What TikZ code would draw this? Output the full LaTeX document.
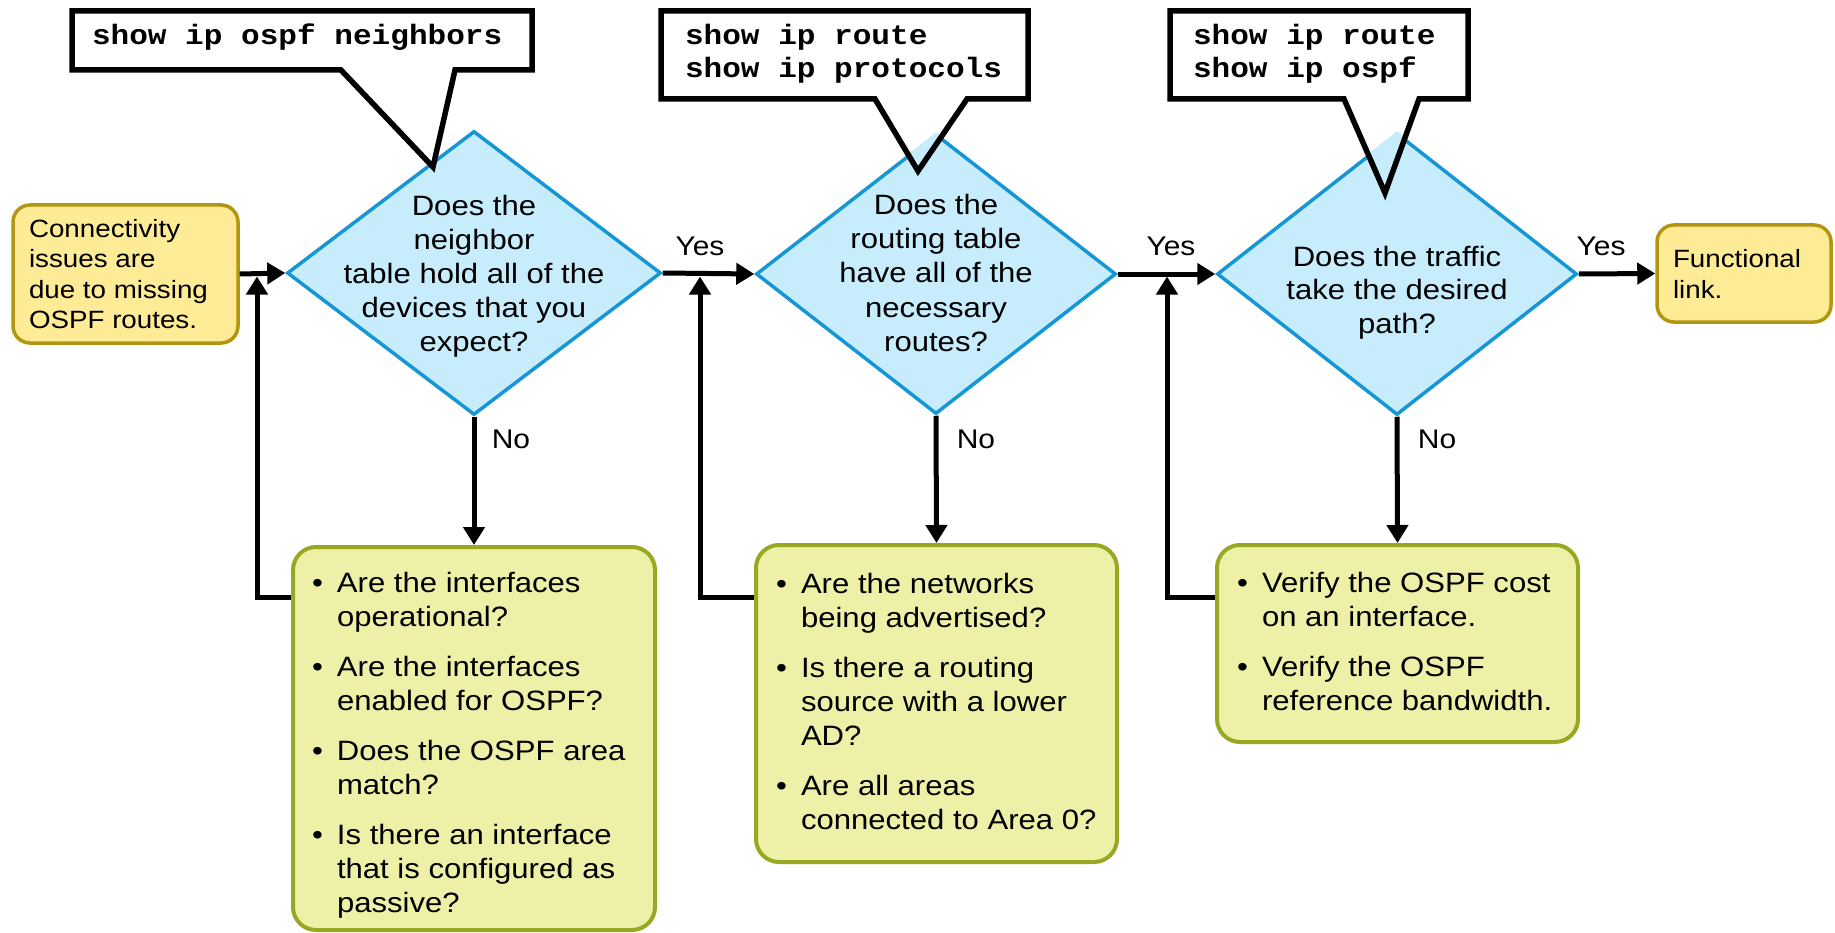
\documentclass[tikz,border=0pt]{standalone}
\usepackage{fontspec}
\setmainfont{Liberation Sans}[FakeStretch=1.11]
\setmonofont{Liberation Mono}[FakeStretch=1.11]
\usetikzlibrary{shapes.geometric,arrows.meta}

\definecolor{dfill}{RGB}{199,237,252}
\definecolor{dborder}{RGB}{22,150,212}
\definecolor{yfill}{RGB}{253,235,150}
\definecolor{yborder}{RGB}{178,150,18}
\definecolor{gfill}{RGB}{237,240,166}
\definecolor{gborder}{RGB}{152,168,34}

% font sizes
\newcommand{\flowQ}{\fontsize{28}{34}\selectfont}
\newcommand{\flowQt}{\fontsize{28}{33.5}\selectfont}
\newcommand{\flowT}{\fontsize{25}{30}\selectfont}
\newcommand{\flowC}{\fontsize{28}{33}\selectfont\ttfamily\bfseries}
\newcommand{\flowL}{\fontsize{27}{32}\selectfont}
% bullet list helpers
\newcommand{\bulitem}{\makebox[25pt][l]{\textbullet}}
\newcommand{\bulcont}{\hspace*{25pt}}

\begin{document}
\begin{tikzpicture}[x=1pt,y=-1pt,
  qbox/.style={diamond, draw=dborder, fill=dfill, line width=3.5pt, inner sep=0pt},
  termbox/.style={rectangle, rounded corners=17pt, draw=yborder, fill=yfill, line width=3.5pt, inner sep=0pt},
  checkbox/.style={rectangle, rounded corners=23pt, draw=gborder, fill=gfill, line width=4pt, inner sep=0pt},
  flow/.style={line width=5pt, -{Triangle[length=18pt,width=21pt]}},
  callout/.style={draw=black, line width=5.5pt, line join=miter},
  txt/.style={inner sep=0pt, outer sep=0pt},
]
\useasboundingbox (0,0) rectangle (1835,933);
\fill[white] (0,0) rectangle (1835,933);

% start and end terminals
\node[termbox, minimum width=225pt, minimum height=138pt] (s) at (125.5,274) {};
\node[termbox, minimum width=174pt, minimum height=97pt] (e) at (1744,273.5) {};

% check lists
\node[checkbox, minimum width=362pt, minimum height=383pt] (g1) at (474,738.5) {};
\node[checkbox, minimum width=361pt, minimum height=317pt] (g2) at (936.5,703.5) {};
\node[checkbox, minimum width=361pt, minimum height=197pt] (g3) at (1397.5,643.5) {};

% decisions
\node[qbox, minimum width=374pt, minimum height=284pt] (d1) at (474,273) {};
\node[qbox, minimum width=360pt, minimum height=280pt] (d2) at (936,274) {};
\node[qbox, minimum width=360pt, minimum height=282pt] (d3) at (1397,274) {};

% command callouts
\fill[white] (72,11) -- (532,11) -- (532,70) -- (455,70) -- (433,167) -- (341,70) -- (72,70) -- cycle;
\begin{scope}
  \clip (d1.north) -- (d1.east) -- (d1.south) -- (d1.west) -- cycle;
  \fill[dfill] (455,70) -- (433,167) -- (341,70) -- cycle;
\end{scope}
\draw[callout] (72,11) -- (532,11) -- (532,70) -- (455,70) -- (433,167) -- (341,70) -- (72,70) -- cycle;

\fill[white] (661,11) -- (1028,11) -- (1028,99) -- (967,99) -- (918,171) -- (875,99) -- (661,99) -- cycle;
\begin{scope}
  \clip (d2.north) -- (d2.east) -- (d2.south) -- (d2.west) -- cycle;
  \fill[dfill] (967,99) -- (918,171) -- (875,99) -- cycle;
\end{scope}
\draw[callout] (661,11) -- (1028,11) -- (1028,99) -- (967,99) -- (918,171) -- (875,99) -- (661,99) -- cycle;

\fill[white] (1170,11) -- (1468,11) -- (1468,99) -- (1419,99) -- (1385,193) -- (1344,99) -- (1170,99) -- cycle;
\begin{scope}
  \clip (d3.north) -- (d3.east) -- (d3.south) -- (d3.west) -- cycle;
  \fill[dfill] (1419,99) -- (1385,193) -- (1344,99) -- cycle;
\end{scope}
\draw[callout] (1170,11) -- (1468,11) -- (1468,99) -- (1419,99) -- (1385,193) -- (1344,99) -- (1170,99) -- cycle;

\node[txt, anchor=base west, font=\flowC] (c1t) at (92,45)
  {\begin{tabular}[t]{@{}l@{}}show ip ospf neighbors\end{tabular}};
\node[txt, anchor=base west, font=\flowC] (c2t) at (685,45)
  {\begin{tabular}[t]{@{}l@{}}show ip route\\show ip protocols\end{tabular}};
\node[txt, anchor=base west, font=\flowC] (c3t) at (1193,45)
  {\begin{tabular}[t]{@{}l@{}}show ip route\\show ip ospf\end{tabular}};

% main flow
\draw[flow] (s.east) -- (d1.west);
\draw[flow] (d1.east) -- (d2.west);
\draw[flow] (d2.east) -- (d3.west);
\draw[flow] (d3.east) -- (e.west);
\draw[flow] (d1.south) -- (g1.north);
\draw[flow] (d2.south) -- (g2.north);
\draw[flow] (d3.south) -- (g3.north);

% loops back after each fix
\coordinate (f1) at (257,276.5);
\coordinate (f2) at (700,276.5);
\coordinate (f3) at (1167,276.5);
\draw[flow] ([yshift=-52pt]g1.north west) -| (f1);
\draw[flow] ([yshift=-54pt]g2.north west) -| (f2);
\draw[flow] ([yshift=-54pt]g3.north west) -| (f3);

% labels
\node[txt, anchor=base, font=\flowL] (y1) at (700,255) {Yes};
\node[txt, anchor=base, font=\flowL] (y2) at (1171,255) {Yes};
\node[txt, anchor=base, font=\flowL] (y3) at (1601,255) {Yes};
\node[txt, anchor=base, font=\flowL] (n1) at (511,448) {No};
\node[txt, anchor=base, font=\flowL] (n2) at (976,448) {No};
\node[txt, anchor=base, font=\flowL] (n3) at (1437,448) {No};

% terminal texts
\node[txt, anchor=base west, font=\flowT] (st) at (29,238)
  {\begin{tabular}[t]{@{}l@{}}Connectivity\\issues are\\due to missing\\OSPF routes.\end{tabular}};
\node[txt, anchor=base west, font=\flowT] (et) at (1673,268)
  {\begin{tabular}[t]{@{}l@{}}Functional\\link.\end{tabular}};

% decision texts
\node[txt, anchor=base, font=\flowQ] (d1t) at (474,216)
  {\begin{tabular}[t]{@{}c@{}}Does the\\neighbor\\table hold all of the\\devices that you\\expect?\end{tabular}};
\node[txt, anchor=base, font=\flowQ] (d2t) at (936,215)
  {\begin{tabular}[t]{@{}c@{}}Does the\\routing table\\have all of the\\necessary\\routes?\end{tabular}};
\node[txt, anchor=base, font=\flowQt] (d3t) at (1397,266)
  {\begin{tabular}[t]{@{}c@{}}Does the traffic\\take the desired\\path?\end{tabular}};

% check list texts
\node[txt, anchor=base west, font=\flowQ] (g1t) at (312,592)
  {\begin{tabular}[t]{@{}l@{}}
   \bulitem Are the interfaces\\ \bulcont operational?\\[16pt]
   \bulitem Are the interfaces\\ \bulcont enabled for OSPF?\\[16pt]
   \bulitem Does the OSPF area\\ \bulcont match?\\[16pt]
   \bulitem Is there an interface\\ \bulcont that is configured as\\ \bulcont passive?
   \end{tabular}};
\node[txt, anchor=base west, font=\flowQ] (g2t) at (776,593)
  {\begin{tabular}[t]{@{}l@{}}
   \bulitem Are the networks\\ \bulcont being advertised?\\[16pt]
   \bulitem Is there a routing\\ \bulcont source with a lower\\ \bulcont AD?\\[16pt]
   \bulitem Are all areas\\ \bulcont connected to Area 0?
   \end{tabular}};
\node[txt, anchor=base west, font=\flowQ] (g3t) at (1237,592)
  {\begin{tabular}[t]{@{}l@{}}
   \bulitem Verify the OSPF cost\\ \bulcont on an interface.\\[16pt]
   \bulitem Verify the OSPF\\ \bulcont reference bandwidth.
   \end{tabular}};
\end{tikzpicture}
\end{document}
